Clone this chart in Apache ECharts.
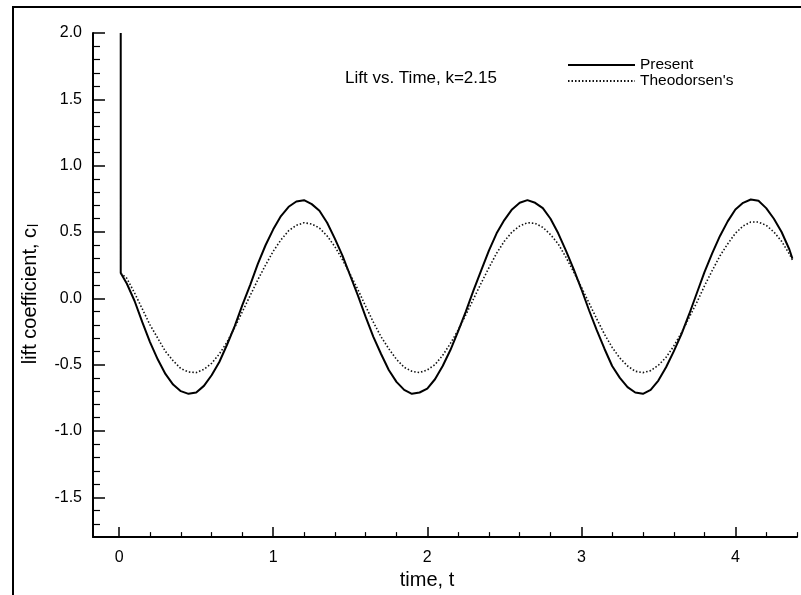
<!DOCTYPE html>
<html>
<head>
<meta charset="utf-8">
<script src="https://cdn.jsdelivr.net/npm/echarts@6/dist/echarts.min.js"></script>
<style>
html,body{margin:0;padding:0;background:#fff;}
#chart{width:801px;height:595px;}
</style>
</head>
<body>
<div id="chart"></div>
<script>
// ---- data ----
const timeValues = [0.01,0.05,0.10,0.15,0.20,0.25,0.30,0.35,0.40,0.45,0.50,0.55,0.60,0.65,0.70,0.75,0.80,0.85,0.90,0.95,
  1.00,1.05,1.10,1.15,1.20,1.25,1.30,1.35,1.40,1.45,1.50,1.55,1.60,1.65,1.70,1.75,1.80,1.85,1.90,1.95,
  2.00,2.05,2.10,2.15,2.20,2.25,2.30,2.35,2.40,2.45,2.50,2.55,2.60,2.65,2.70,2.75,2.80,2.85,2.90,2.95,
  3.00,3.05,3.10,3.15,3.20,3.25,3.30,3.35,3.40,3.45,3.50,3.55,3.60,3.65,3.70,3.75,3.80,3.85,3.90,3.95,
  4.00,4.05,4.10,4.15,4.20,4.25,4.30,4.35,4.37];
const presentSpike = [0.01, 2.0];
const presentLift = [0.19,0.11,-0.02,-0.18,-0.33,-0.46,-0.57,-0.65,-0.70,-0.72,-0.71,-0.66,-0.58,-0.48,-0.35,-0.21,-0.05,0.10,0.26,0.40,
  0.52,0.62,0.69,0.73,0.74,0.71,0.66,0.57,0.45,0.32,0.17,0.02,-0.14,-0.29,-0.42,-0.54,-0.63,-0.69,-0.72,-0.71,
  -0.68,-0.61,-0.51,-0.39,-0.25,-0.10,0.06,0.21,0.36,0.49,0.59,0.67,0.72,0.74,0.72,0.68,0.60,0.49,0.36,0.22,
  0.07,-0.09,-0.24,-0.38,-0.51,-0.60,-0.67,-0.71,-0.72,-0.69,-0.62,-0.52,-0.40,-0.27,-0.12,0.04,0.20,0.34,0.47,0.58,
  0.67,0.72,0.745,0.735,0.68,0.60,0.50,0.37,0.30];
const theodorsenLift = [0.19,0.15,0.04,-0.08,-0.20,-0.30,-0.40,-0.47,-0.53,-0.555,-0.56,-0.535,-0.49,-0.42,-0.33,-0.22,-0.10,0.02,0.14,0.25,
  0.355,0.44,0.51,0.55,0.57,0.56,0.53,0.47,0.39,0.29,0.18,0.065,-0.06,-0.18,-0.29,-0.38,-0.46,-0.52,-0.55,-0.56,
  -0.54,-0.50,-0.43,-0.34,-0.24,-0.125,-0.005,0.115,0.23,0.34,0.43,0.50,0.545,0.57,0.565,0.535,0.48,0.41,0.31,0.20,
  0.085,-0.035,-0.155,-0.27,-0.37,-0.45,-0.51,-0.55,-0.56,-0.545,-0.505,-0.445,-0.36,-0.26,-0.145,-0.03,0.095,0.21,0.32,0.41,
  0.49,0.545,0.575,0.575,0.55,0.50,0.43,0.335,0.29];
const seriesNames = ['Present', "Theodorsen's"];
const xMajorTicks = [0, 1, 2, 3, 4];
const xMinorTicks = [0.2,0.4,0.6,0.8,1.2,1.4,1.6,1.8,2.2,2.4,2.6,2.8,3.2,3.4,3.6,3.8,4.2,4.4];
const yMajorTicks = [-1.5,-1.0,-0.5,0.0,0.5,1.0,1.5,2.0];
const yMinorTicks = [-1.7,-1.6,-1.4,-1.3,-1.2,-1.1,-0.9,-0.8,-0.7,-0.6,-0.4,-0.3,-0.2,-0.1,
  0.1,0.2,0.3,0.4,0.6,0.7,0.8,0.9,1.1,1.2,1.3,1.4,1.6,1.7,1.8,1.9];
const chartTitle = 'Lift vs. Time, k=2.15';
const xName = 'time, t';

// ---- build ----
const presentData = [presentSpike].concat(timeValues.map((t, i) => [t, presentLift[i]]));
const theoData = timeValues.map((t, i) => [t, theodorsenLift[i]]);

const FONT = 'Liberation Sans, Arial, sans-serif';
const chart = echarts.init(document.getElementById('chart'), null, {renderer: 'canvas'});

const xRange = {min: -0.17, max: 4.4};
const yRange = {min: -1.8, max: 2.0};

chart.setOption({
  animation: false,
  backgroundColor: '#fff',
  title: {
    text: chartTitle, left: 345, top: 70, padding: 0,
    textStyle: {fontFamily: FONT, fontSize: 17, fontWeight: 'normal', color: '#000'}
  },
  legend: {
    data: seriesNames, orient: 'vertical', left: 567, top: 57, padding: 0,
    itemWidth: 67, itemHeight: 14, itemGap: 0,
    itemStyle: {opacity: 0, borderWidth: 0},
    textStyle: {fontFamily: FONT, fontSize: 15.5, color: '#000', lineHeight: 16}
  },
  grid: {left: 93, right: 4, top: 33, bottom: 57, containLabel: false},
  xAxis: [
    {
      type: 'value', ...xRange,
      name: xName, nameLocation: 'middle', nameGap: 29,
      nameTextStyle: {fontFamily: FONT, fontSize: 20, color: '#000', padding: [0, 36, 0, 0]},
      axisLine: {show: true, onZero: false, lineStyle: {color: '#000', width: 2}},
      axisTick: {show: true, inside: true, length: 10, customValues: xMajorTicks, lineStyle: {color: '#000', width: 1.5}},
      axisLabel: {show: true, customValues: xMajorTicks, margin: 12, fontFamily: FONT, fontSize: 16, color: '#000'},
      splitLine: {show: false}
    },
    {
      type: 'value', ...xRange, gridIndex: 0, position: 'bottom',
      axisLine: {show: false, onZero: false},
      axisTick: {show: true, inside: true, length: 5, customValues: xMinorTicks, lineStyle: {color: '#000', width: 1.2}},
      axisLabel: {show: false},
      splitLine: {show: false}
    }
  ],
  yAxis: [
    {
      type: 'value', ...yRange,
      name: 'lift coefficient, c{sub|l}', nameLocation: 'middle', nameGap: 52, nameRotate: 90,
      nameTextStyle: {fontFamily: FONT, fontSize: 20, color: '#000', padding: [0, 18, 0, 0],
        rich: {sub: {fontFamily: FONT, fontSize: 14, color: '#000', verticalAlign: 'bottom', padding: [8, 0, 0, 1]}}},
      axisLine: {show: true, onZero: false, lineStyle: {color: '#000', width: 2}},
      axisTick: {show: true, inside: true, length: 12, customValues: yMajorTicks, lineStyle: {color: '#000', width: 1.5}},
      axisLabel: {show: true, customValues: yMajorTicks, margin: 11, fontFamily: FONT, fontSize: 16, color: '#000',
        formatter: v => v.toFixed(1)},
      splitLine: {show: false}
    },
    {
      type: 'value', ...yRange, gridIndex: 0, position: 'left',
      axisLine: {show: false, onZero: false},
      axisTick: {show: true, inside: true, length: 7, customValues: yMinorTicks, lineStyle: {color: '#000', width: 1.2}},
      axisLabel: {show: false},
      splitLine: {show: false}
    }
  ],
  series: [
    {
      name: seriesNames[0], type: 'line', data: presentData, symbol: 'none',
      xAxisIndex: 0, yAxisIndex: 0,
      lineStyle: {color: '#000', width: 2}, itemStyle: {color: '#000'}
    },
    {
      name: seriesNames[1], type: 'line', data: theoData, symbol: 'none',
      xAxisIndex: 0, yAxisIndex: 0,
      lineStyle: {color: '#111', width: 1.6, type: [1.5, 2]}, itemStyle: {color: '#111'}
    }
  ],
  graphic: [
    {type: 'rect', silent: true, z: 100,
     shape: {x: 13, y: 7, width: 820, height: 620},
     style: {fill: 'none', stroke: '#000', lineWidth: 2}}
  ]
});
</script>
</body>
</html>
